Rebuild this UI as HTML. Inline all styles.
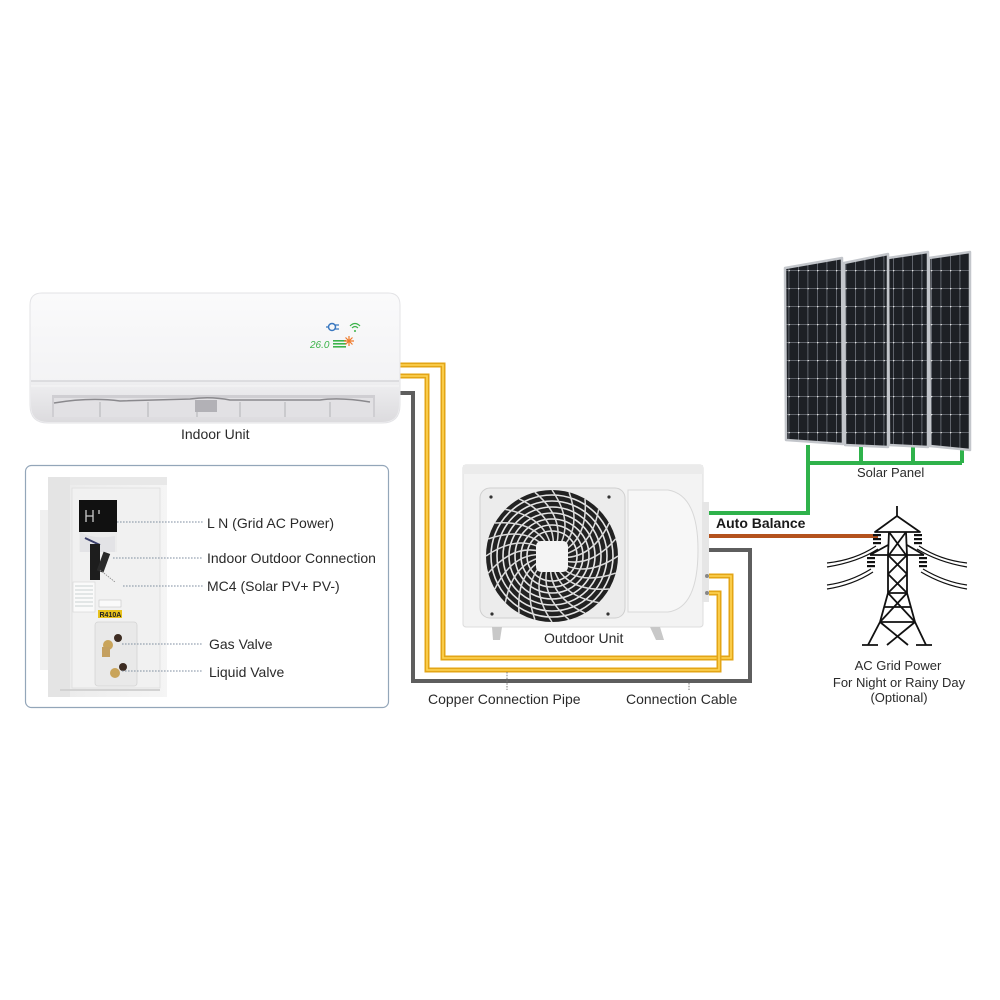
<!DOCTYPE html>
<html><head><meta charset="utf-8"><style>
html,body{margin:0;padding:0;background:#fff;}
svg{display:block;}
text{font-family:"Liberation Sans",sans-serif;fill:#2a2a2a;}
</style></head><body>
<svg width="1000" height="1000" viewBox="0 0 1000 1000" xmlns="http://www.w3.org/2000/svg">
<defs>
<pattern id="cells" width="9.5" height="18" patternUnits="userSpaceOnUse">
<rect width="9.5" height="18" fill="#1d2025"/>
<path d="M0 0.4H9.5M0.4 0V18" stroke="#70757d" stroke-width="0.8"/>
<circle cx="0.5" cy="0.5" r="0.9" fill="#e8e8e8"/>
</pattern>
<linearGradient id="indoor" x1="0" y1="0" x2="0" y2="1">
<stop offset="0" stop-color="#fafafb"/><stop offset="1" stop-color="#f0f0f2"/>
</linearGradient>
<linearGradient id="lower" x1="0" y1="0" x2="0" y2="1">
<stop offset="0" stop-color="#efeff1"/><stop offset="1" stop-color="#dcdbde"/>
</linearGradient>
<linearGradient id="body" x1="0" y1="0" x2="1" y2="0">
<stop offset="0" stop-color="#eaeaea"/><stop offset="1" stop-color="#f5f5f5"/>
</linearGradient>
</defs>
<rect width="1000" height="1000" fill="#fff"/>

<!-- ===== Pipes ===== -->
<g fill="none" stroke-linejoin="miter">
<path d="M400,393 H413 V681 H750 V550 H706" stroke="#5e5e5e" stroke-width="4"/>
<path d="M400,365 H443 V658 H731 V576 H708" stroke="#e3a516" stroke-width="5"/>
<path d="M400,365 H443 V658 H731 V576 H708" stroke="#ffd556" stroke-width="1.6"/>
<path d="M400,376 H427 V670 H719 V593 H708" stroke="#e3a516" stroke-width="5"/>
<path d="M400,376 H427 V670 H719 V593 H708" stroke="#ffd556" stroke-width="1.6"/>
<path d="M707,513 H808 V445" stroke="#2fb24b" stroke-width="4"/>
<path d="M808,463 H962 M861,445 V463 M913,445 V463 M962,447 V463" stroke="#2fb24b" stroke-width="4"/>
<path d="M707,536 H878" stroke="#b4521d" stroke-width="4"/>
</g>

<!-- ===== Indoor unit ===== -->
<g>
<path d="M42,293 H388 Q400,293 400,305 V405 Q400,423 382,423 H48 Q30,423 30,405 V305 Q30,293 42,293 Z" fill="url(#indoor)" stroke="#e3e3e6" stroke-width="1"/>
<path d="M31,381 H399 V405 Q399,422 382,422 H48 Q31,422 31,405 Z" fill="url(#lower)"/>
<path d="M31,381 H399" stroke="#d6d6d9" stroke-width="1.5"/>
<path d="M31,386 H399" stroke="#f6f6f7" stroke-width="1"/>
<rect x="52" y="395" width="323" height="22" fill="#cfced2"/>
<rect x="54" y="398" width="319" height="19" fill="#e2e1e4"/>
<path d="M54,403 Q90,397 120,401 L190,399 Q210,396 230,400 L320,400 Q340,397 370,402" stroke="#8a898d" stroke-width="1.5" fill="none"/>
<path d="M100,402V417 M148,402V417 M197,402V417 M240,402V417 M285,402V417 M330,402V417" stroke="#b3b2b6" stroke-width="1"/>
<rect x="195" y="400" width="22" height="12" fill="#b2b1b6"/>
<!-- display -->
<circle cx="332" cy="327" r="3.5" fill="none" stroke="#3a78c0" stroke-width="1.5"/>
<path d="M326,327H329 M335,325H339 M335,329H339" stroke="#3a78c0" stroke-width="1.3"/>
<path d="M350,326 Q355,321 360,326 M352,328 Q355,325 358,328" stroke="#3cb34a" stroke-width="1.2" fill="none"/>
<circle cx="355" cy="331" r="1" fill="#3cb34a"/>
<text x="310" y="348" font-size="10" style="fill:#3cb34a" font-style="italic">26.0</text>
<g fill="#3cb34a"><rect x="333" y="340" width="13" height="1.6"/><rect x="333" y="343" width="13" height="1.6"/><rect x="333" y="346" width="13" height="1.6"/></g>
<g stroke="#f07a2a" stroke-width="1.2"><path d="M349,336V346 M344,341H354 M345.5,337.5L352.5,344.5 M352.5,337.5L345.5,344.5"/></g>
</g>
<text x="181" y="439" font-size="14">Indoor Unit</text>

<!-- ===== Inset box ===== -->
<rect x="25.5" y="465.5" width="363" height="242" rx="6" fill="#fff" stroke="#93a6b9" stroke-width="1.2"/>
<g>
<rect x="48" y="477" width="119" height="220" fill="url(#body)"/>
<rect x="48" y="477" width="22" height="220" fill="#e4e4e4"/>
<rect x="40" y="510" width="8" height="160" fill="#f0f0f0"/>
<rect x="70" y="477" width="97" height="8" fill="#e8e8e8"/>
<rect x="72" y="488" width="88" height="200" fill="#f1f1f1" stroke="#dedede" stroke-width="0.8"/>
<rect x="79" y="500" width="38" height="52" fill="#ececec"/>
<rect x="79" y="500" width="38" height="32" fill="#111"/>
<path d="M86,510V522 M93,510V522 M86,516H93 M99,510V514" stroke="#ccc" stroke-width="1.3"/>
<path d="M80,532 Q95,540 115,536 L115,552 H80Z" fill="#e3e3e6"/>
<path d="M85,538 L100,545" stroke="#3a3f6a" stroke-width="2"/>
<rect x="90" y="544" width="10" height="36" fill="#1d1d1d"/>
<rect x="100" y="552" width="7" height="20" fill="#2a2a2a" transform="rotate(20 103 562)"/>
<path d="M100,570 L115,582" stroke="#888" stroke-width="0.8" stroke-dasharray="1.5 1"/>
<rect x="73" y="582" width="22" height="30" fill="#fafafa" stroke="#ccc" stroke-width="0.5"/>
<path d="M75,586H93 M75,590H93 M75,594H93 M75,598H93 M75,602H93 M75,606H93" stroke="#9aa" stroke-width="0.6"/>
<rect x="99" y="600" width="22" height="7" fill="#fafafa" stroke="#bbb" stroke-width="0.5"/>
<rect x="98" y="610" width="24" height="8" fill="#e8c21c"/>
<text x="99.5" y="617" font-size="7" style="fill:#222" font-weight="bold">R410A</text>
<rect x="95" y="622" width="42" height="64" rx="3" fill="#e9e9e9" stroke="#d4d4d4" stroke-width="0.8"/>
<circle cx="108" cy="645" r="5" fill="#c9a45a"/>
<circle cx="118" cy="638" r="4" fill="#3d2c22"/>
<rect x="102" y="647" width="8" height="10" fill="#c4a060"/>
<circle cx="115" cy="673" r="5" fill="#c9a45a"/>
<circle cx="123" cy="667" r="4" fill="#3d2c22"/>
<path d="M60,690 H160" stroke="#d2d2d2" stroke-width="2"/>
</g>
<g stroke="#7f8ea0" stroke-width="1" stroke-dasharray="1.6 1.4">
<path d="M117,522 H203"/><path d="M113,558 H203"/><path d="M123,586 H203"/><path d="M122,644 H203"/><path d="M122,671 H203"/>
</g>
<g font-size="14">
<text x="207" y="528">L N (Grid AC Power)</text>
<text x="207" y="563">Indoor Outdoor Connection</text>
<text x="207" y="591">MC4 (Solar PV+ PV-)</text>
<text x="209" y="649">Gas Valve</text>
<text x="209" y="677">Liquid Valve</text>
</g>

<!-- ===== Outdoor unit ===== -->
<g>
<rect x="463" y="465" width="240" height="162" rx="3" fill="#f3f3f3" stroke="#dcdcdc" stroke-width="1"/>
<rect x="463" y="465" width="240" height="9" fill="#ebebeb"/>
<path d="M628,490 H668 Q698,495 698,550 Q698,608 668,612 H628 Z" fill="#f7f7f7" stroke="#d8d8d8" stroke-width="1"/>
<rect x="480" y="488" width="145" height="130" rx="10" fill="#ececec" stroke="#cfcfcf" stroke-width="1"/>
<circle cx="552" cy="556" r="66" fill="#222"/>
<g fill="none" stroke="#e6e6e6" stroke-width="1.6">
<circle cx="552" cy="556" r="61"/><circle cx="552" cy="556" r="55"/><circle cx="552" cy="556" r="49"/><circle cx="552" cy="556" r="43"/><circle cx="552" cy="556" r="37"/><circle cx="552" cy="556" r="31"/><circle cx="552" cy="556" r="25"/>
</g>
<g fill="none" stroke="#dcdcdc" stroke-width="1.5">
<path id="sp" d="M552,556 Q578,528 552,490"/>
<use href="#sp" transform="rotate(15 552 556)"/><use href="#sp" transform="rotate(30 552 556)"/><use href="#sp" transform="rotate(45 552 556)"/><use href="#sp" transform="rotate(60 552 556)"/><use href="#sp" transform="rotate(75 552 556)"/><use href="#sp" transform="rotate(90 552 556)"/><use href="#sp" transform="rotate(105 552 556)"/><use href="#sp" transform="rotate(120 552 556)"/><use href="#sp" transform="rotate(135 552 556)"/><use href="#sp" transform="rotate(150 552 556)"/><use href="#sp" transform="rotate(165 552 556)"/><use href="#sp" transform="rotate(180 552 556)"/><use href="#sp" transform="rotate(195 552 556)"/><use href="#sp" transform="rotate(210 552 556)"/><use href="#sp" transform="rotate(225 552 556)"/><use href="#sp" transform="rotate(240 552 556)"/><use href="#sp" transform="rotate(255 552 556)"/><use href="#sp" transform="rotate(270 552 556)"/><use href="#sp" transform="rotate(285 552 556)"/><use href="#sp" transform="rotate(300 552 556)"/><use href="#sp" transform="rotate(315 552 556)"/><use href="#sp" transform="rotate(330 552 556)"/><use href="#sp" transform="rotate(345 552 556)"/>
</g>
<rect x="536" y="541" width="32" height="31" rx="5" fill="#f4f4f4"/>
<g fill="#333"><circle cx="491" cy="497" r="1.6"/><circle cx="609" cy="497" r="1.6"/><circle cx="492" cy="614" r="1.6"/><circle cx="608" cy="614" r="1.6"/></g>
<path d="M492,627 L502,627 L500,640 L493,640 Z" fill="#c8c8c8"/>
<path d="M650,627 L660,627 L664,640 L656,640 Z" fill="#c8c8c8"/>
<rect x="702" y="502" width="7" height="100" fill="#e6e6e6"/>
<circle cx="707" cy="576" r="2" fill="#888"/><circle cx="707" cy="593" r="2" fill="#888"/>
</g>
<text x="544" y="643" font-size="14">Outdoor Unit</text>
<text x="716" y="528" font-size="14" font-weight="bold" style="fill:#1a1a1a">Auto Balance</text>

<!-- leaders -->
<g stroke="#777" stroke-width="1" stroke-dasharray="1.5 1.3">
<path d="M507,672 V690"/><path d="M689,683 V690"/>
</g>
<text x="428" y="704" font-size="14">Copper Connection Pipe</text>
<text x="626" y="704" font-size="14">Connection Cable</text>

<!-- ===== Solar panels ===== -->
<g stroke="#c3c6cb" stroke-width="2.5" stroke-linejoin="round">
<polygon points="929,258 970,252 970,450 930,446" fill="url(#cells)"/>
<polygon points="888,258 928,252 928,447 889,445" fill="url(#cells)"/>
<polygon points="844,263 888,254 888,447 845,445" fill="url(#cells)"/>
<polygon points="785,268 842,258 843,444 786,440" fill="url(#cells)"/>
</g>
<text x="857" y="477" font-size="13">Solar Panel</text>

<!-- ===== Tower ===== -->
<g fill="none" stroke="#111" stroke-width="1.8" stroke-linejoin="round">
<path d="M897,506 V517"/>
<path d="M897,516 L875,532 H920 L897,516"/>
<path d="M889,532 L888,555 M906,532 L907,555"/>
<path d="M889,532 L906,555 M906,532 L889,555"/>
<path d="M870,555 H924 M888,545 L870,555 M907,545 L924,555"/>
<path d="M888,555 L888,593 M907,555 L907,593 M888,555 L907,574 L888,593 M907,555 L888,574 L907,593"/>
<path d="M888,593 H907 M888,593 L880,622 L868,645 M907,593 L915,622 L926,645"/>
<path d="M888,593 L915,622 M907,593 L880,622 M880,622 H915 M884,607 H911"/>
<path d="M880,622 L908,645 M915,622 L887,645"/>
<path d="M862,645 H878 M916,645 H932"/>
</g>
<g stroke="#111" stroke-width="1.2" fill="none">
<path d="M827,563 Q855,560 876,546"/><path d="M827,567 Q858,562 878,549"/>
<path d="M919,546 Q940,560 967,563"/><path d="M917,549 Q938,562 967,567"/>
<path d="M827,585 Q850,582 871,569"/><path d="M827,589 Q853,585 873,572"/>
<path d="M923,569 Q945,582 967,585"/><path d="M921,572 Q943,585 967,589"/>
</g>
<g fill="#111">
<rect x="873" y="534" width="8" height="2.2"/><rect x="873" y="538" width="8" height="2.2"/><rect x="873" y="542" width="8" height="2.2"/>
<rect x="914" y="534" width="8" height="2.2"/><rect x="914" y="538" width="8" height="2.2"/><rect x="914" y="542" width="8" height="2.2"/>
<rect x="867" y="557" width="8" height="2.2"/><rect x="867" y="561" width="8" height="2.2"/><rect x="867" y="565" width="8" height="2.2"/>
<rect x="919" y="557" width="8" height="2.2"/><rect x="919" y="561" width="8" height="2.2"/><rect x="919" y="565" width="8" height="2.2"/>
</g>
<g font-size="13" text-anchor="middle">
<text x="898" y="670">AC Grid Power</text>
<text x="899" y="687">For Night or Rainy Day</text>
<text x="899" y="702">(Optional)</text>
</g>
</svg>
</body></html>
